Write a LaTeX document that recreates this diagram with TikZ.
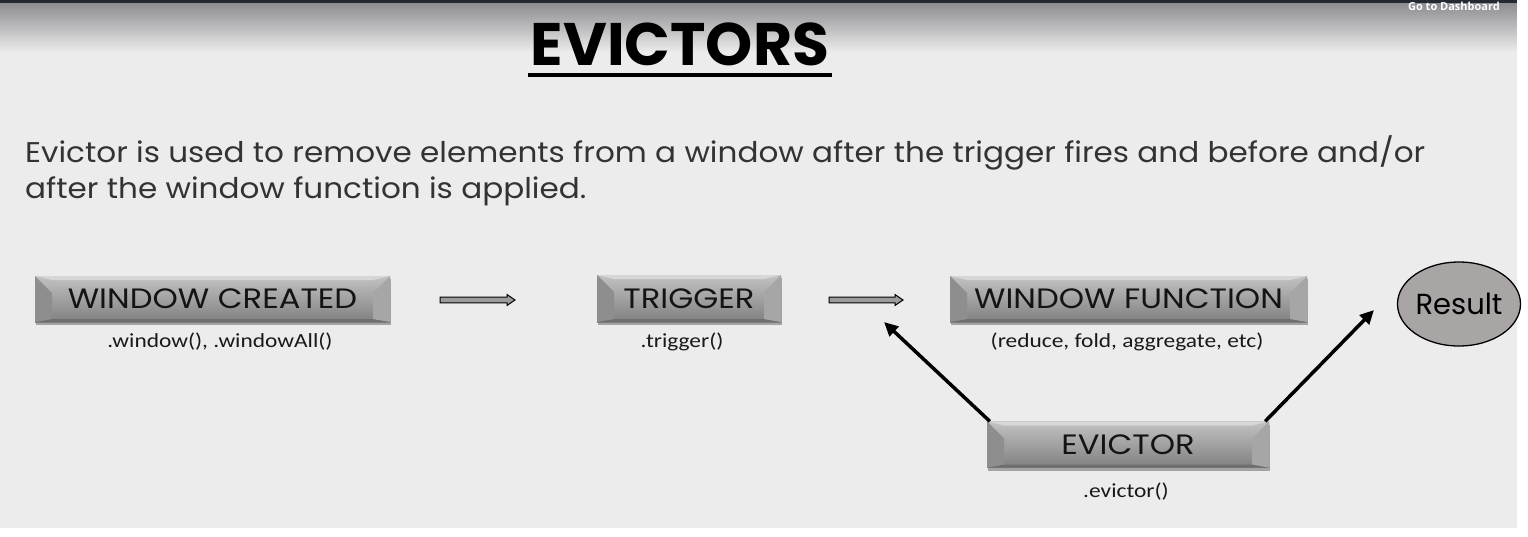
\documentclass[tikz,border=0pt]{standalone}
\usepackage{fontspec}
\newfontfamily\comicfont{Poppins}
\newfontfamily\bodyfont[FakeStretch=1.09]{Poppins}
\newfontfamily\boxfont[FakeStretch=1.15]{Poppins}
\newfontfamily\calfont[FakeStretch=1.17]{Carlito}
\newfontfamily\dashfont{Open Sans}
\usetikzlibrary{shadows,arrows.meta,shapes.geometric}
\definecolor{bgc}{HTML}{ECECEC}
\definecolor{gradc}{HTML}{8D8D91}
\definecolor{barc}{HTML}{252932}
\definecolor{facetop}{HTML}{C2C2C2}
\definecolor{facebot}{HTML}{808080}
\definecolor{bevl}{HTML}{8E8E8E}
\definecolor{bevr}{HTML}{A6A6A6}
\definecolor{bevt}{HTML}{D6D6D6}
\definecolor{bevb}{HTML}{6E6E6E}
\definecolor{resc}{HTML}{A9A5A5}
\definecolor{arrowc}{HTML}{9C9C9C}
\definecolor{bodyc}{HTML}{333333}
\tikzset{
  gbox/.style={draw=none, inner sep=0pt, text=black!92,
    font=\boxfont\fontsize{28}{30}\selectfont,
    drop shadow={shadow xshift=1pt, shadow yshift=-3pt, opacity=0.3, fill=black},
    path picture={
      \shade[top color=facetop, bottom color=facebot]
        (path picture bounding box.south west) rectangle (path picture bounding box.north east);
      \fill[bevt] (path picture bounding box.north west) -- (path picture bounding box.north east)
        -- ([xshift=-17pt,yshift=-4pt]path picture bounding box.north east)
        -- ([xshift=17pt,yshift=-4pt]path picture bounding box.north west) -- cycle;
      \fill[bevb] (path picture bounding box.south west) -- (path picture bounding box.south east)
        -- ([xshift=-17pt,yshift=3pt]path picture bounding box.south east)
        -- ([xshift=17pt,yshift=3pt]path picture bounding box.south west) -- cycle;
      \fill[bevl] (path picture bounding box.north west)
        -- ([xshift=17pt,yshift=-17pt]path picture bounding box.north west)
        -- ([xshift=17pt,yshift=3pt]path picture bounding box.south west)
        -- (path picture bounding box.south west) -- cycle;
      \fill[bevr] (path picture bounding box.north east)
        -- ([xshift=-17pt,yshift=-17pt]path picture bounding box.north east)
        -- ([xshift=-17pt,yshift=3pt]path picture bounding box.south east)
        -- (path picture bounding box.south east) -- cycle;
    }},
  captxt/.style={inner sep=0pt, anchor=base, text=black!90, font=\calfont\fontsize{20}{23}\selectfont},
  bodytxt/.style={inner sep=0pt, anchor=base west, text=bodyc, font=\bodyfont\fontsize{28.5}{34}\selectfont},
  blkarrow/.style={line width=3.5pt, -{Triangle[length=14pt,width=13pt]}},
  pics/harrow/.style={code={
    \draw[fill=arrowc, line width=1pt] (0,-2.8) -- (#1-8,-2.8) -- (#1-8,-5.5) -- (#1,0)
      -- (#1-8,5.5) -- (#1-8,2.8) -- (0,2.8) -- cycle;}}
}
\begin{document}
\begin{tikzpicture}[x=1pt,y=-1pt]
\useasboundingbox (0,0) rectangle (1528,536);
% background
\fill[bgc] (0,0) rectangle (1528,536);
\shade[top color=gradc, bottom color=bgc] (0,3) rectangle (1517,52);
\fill[barc] (0,0) rectangle (1517,3);
\fill[white] (1517,0) rectangle (1528,536);
\fill[white] (0,528) rectangle (1517,536);
\node[inner sep=0pt, anchor=base east, text=white, font=\dashfont\bfseries\fontsize{11}{12}\selectfont] (dash) at (1500,10.5) {Go to Dashboard};
% title
\node[inner sep=0pt, anchor=base, font=\comicfont\bfseries\fontsize{60}{62}\selectfont] (title) at (680,65) {EVICTORS};
\draw[line width=4pt] ([xshift=-3pt,yshift=-10pt]title.base west) -- ([xshift=3pt,yshift=-10pt]title.base east);
% body
\node[bodytxt] (body1) at (25,162) {Evictor is used to remove elements from a window after the trigger fires and before and/or};
\node[bodytxt] (body2) at (25,198) {after the window function is applied.};
% boxes
\node[gbox, minimum width=355pt, minimum height=46pt] (wc) at (212.5,299) {WINDOW CREATED};
\node[gbox, minimum width=184pt, minimum height=47pt] (tr) at (689,298.5) {TRIGGER};
\node[gbox, minimum width=357pt, minimum height=46pt] (wf) at (1128.5,299) {WINDOW FUNCTION};
\node[gbox, minimum width=282pt, minimum height=46pt] (ev) at (1128,444.5) {EVICTOR};
\node[ellipse, draw, line width=1.3pt, fill=resc, minimum width=114pt, minimum height=84pt, inner sep=0pt,
  font=\comicfont\fontsize{29}{30}\selectfont] (res) at (1459,304) {Result};
% captions
\node[captxt] (wccap) at (220,347) {.window(), .windowAll()};
\node[captxt] (trcap) at (682,347) {.trigger()};
\node[captxt] (wfcap) at (1127,347) {(reduce, fold, aggregate, etc)};
\node[captxt] (evcap) at (1126,497) {.evictor()};
% hollow arrows
\pic at (440,300) {harrow=75};
\pic at (829,300) {harrow=74};
% evictor arrows
\coordinate (tipL) at (884,322);
\coordinate (tipR) at (1374,310);
\draw[blkarrow] ([xshift=3pt]ev.north west) -- (tipL);
\draw[blkarrow] ([xshift=-4pt]ev.north east) -- (tipR);
\end{tikzpicture}
\end{document}
